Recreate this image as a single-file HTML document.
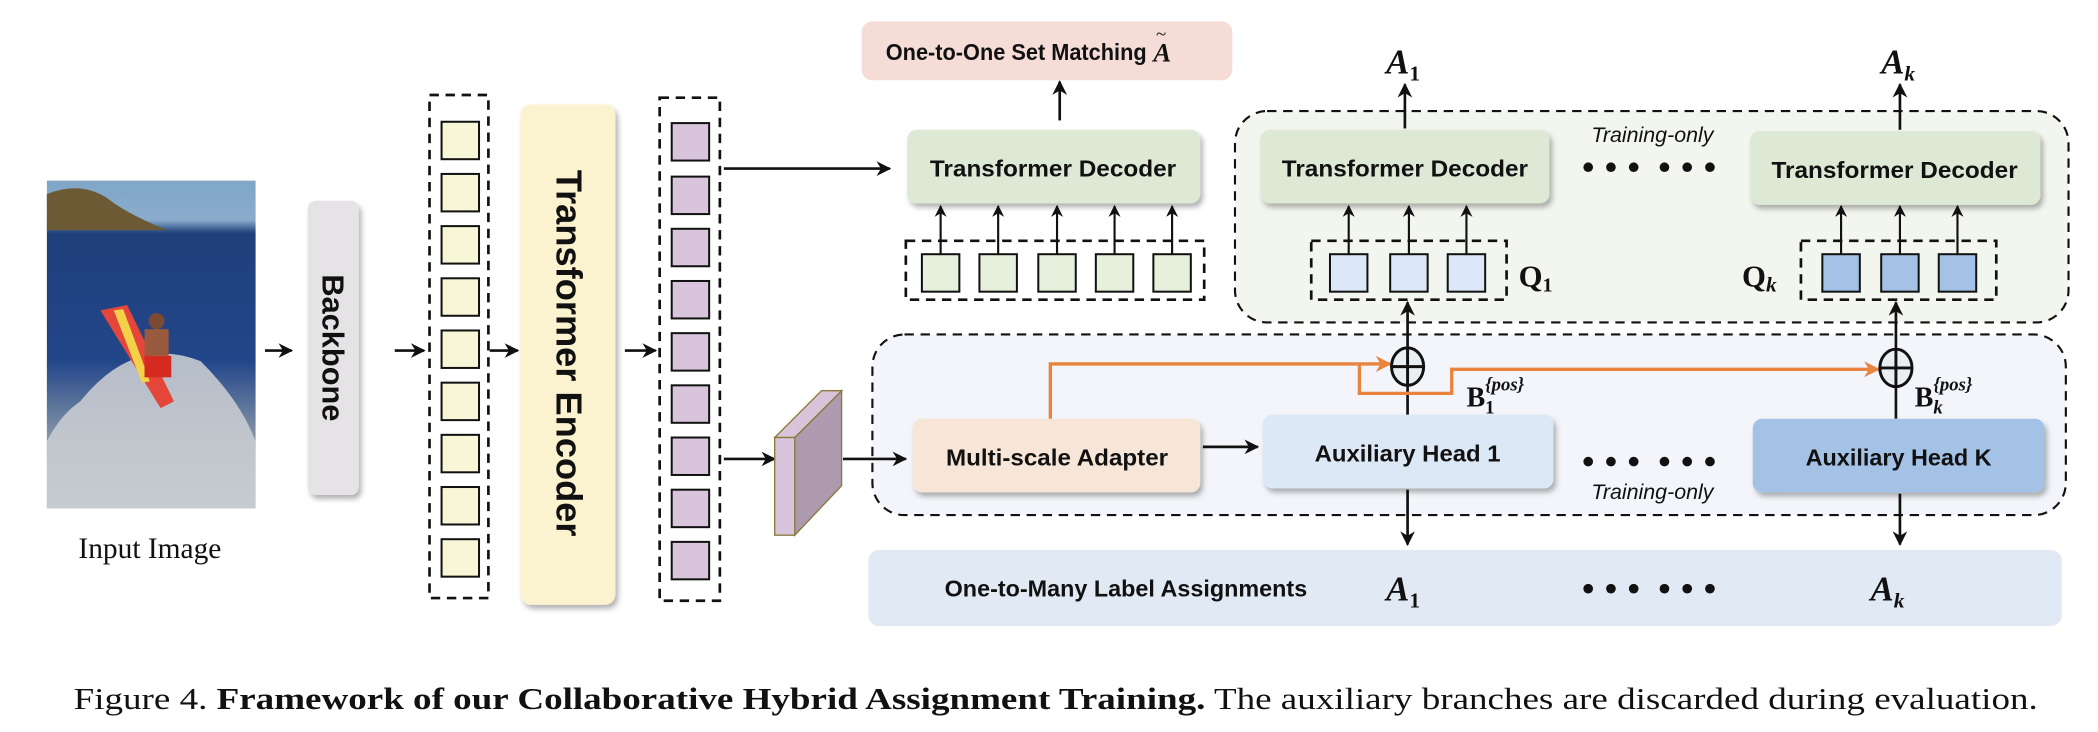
<!DOCTYPE html>
<html><head><meta charset="utf-8"><style>
html,body{margin:0;padding:0;background:#fff;}
svg{display:block;}
.b{font-family:"Liberation Sans Narrow","Liberation Sans",sans-serif;font-weight:bold;fill:#111;}
.s{font-family:"Liberation Serif",serif;fill:#111;}
</style></head><body>
<svg width="2098" height="732" viewBox="0 0 1568 547.1" xmlns="http://www.w3.org/2000/svg">
<defs>
<filter id="sh" x="-10%" y="-10%" width="130%" height="140%"><feDropShadow dx="2" dy="3" stdDeviation="2" flood-color="#000" flood-opacity="0.3"/></filter>
<marker id="ar" viewBox="0 0 10 10" refX="9" refY="5" markerWidth="11" markerHeight="11" markerUnits="userSpaceOnUse" orient="auto-start-reverse"><path d="M0,0 L10,5 L0,10 L3,5 z" fill="#111"/></marker>
<marker id="as" viewBox="0 0 10 10" refX="9" refY="5" markerWidth="9" markerHeight="9" markerUnits="userSpaceOnUse" orient="auto"><path d="M0,0 L10,5 L0,10 L3,5 z" fill="#111"/></marker>
<marker id="ao" viewBox="0 0 10 10" refX="9" refY="5" markerWidth="12" markerHeight="12" markerUnits="userSpaceOnUse" orient="auto"><path d="M0,0 L10,5 L0,10 L3,5 z" fill="#e9843f"/></marker>
<linearGradient id="sea" x1="0" y1="0" x2="0" y2="1"><stop offset="0" stop-color="#7fa6c8"/><stop offset="0.12" stop-color="#8aaccc"/><stop offset="0.16" stop-color="#1f3f7a"/><stop offset="0.55" stop-color="#23468a"/><stop offset="0.8" stop-color="#8c9aa8"/><stop offset="1" stop-color="#c8ccd0"/></linearGradient>
</defs>

<!-- photo -->
<rect x="35" y="135" width="156" height="245" fill="url(#sea)"/>
<path d="M35,145 Q60,135 80,148 Q95,160 125,172 L35,172 z" fill="#6b5a33"/>
<path d="M60,300 Q100,250 150,270 Q180,300 191,330 L191,380 L35,380 L35,330 Q45,310 60,300z" fill="#c6cbd0" opacity="0.9"/>
<path d="M75,232 L95,228 L130,300 L120,305 z" fill="#e4463a"/>
<path d="M85,232 L92,231 L112,285 L106,286 z" fill="#f3d24a"/>
<circle cx="117" cy="240" r="6" fill="#7a4a33"/>
<rect x="108" y="246" width="18" height="20" fill="#9a5a40"/>
<rect x="108" y="266" width="20" height="16" fill="#d42a20"/>

<text class="s" x="112" y="417" font-size="22" text-anchor="middle">Input Image</text>

<!-- regions -->
<rect x="923" y="83" width="623" height="158" rx="24" fill="#f3f5ef" stroke="#111" stroke-width="1.6" stroke-dasharray="7,5"/>
<rect x="652" y="250" width="892" height="135" rx="24" fill="#f3f5fa" stroke="#111" stroke-width="1.6" stroke-dasharray="7,5"/>
<rect x="649" y="411" width="892" height="57" rx="8" fill="#e1eaf4"/>

<!-- arrows -->
<g stroke="#111" stroke-width="2" fill="none" marker-end="url(#ar)">
<line x1="198" y1="262" x2="218" y2="262"/>
<line x1="295" y1="262" x2="317" y2="262"/>
<line x1="366" y1="262" x2="387" y2="262"/>
<line x1="467" y1="262" x2="490" y2="262"/>
<line x1="541" y1="126" x2="665" y2="126"/>
<line x1="541" y1="343" x2="579" y2="343"/>
<line x1="630" y1="343" x2="677" y2="343"/>
<line x1="899" y1="334" x2="940" y2="334"/>
<line x1="792" y1="90" x2="792" y2="61"/>
</g>

<!-- backbone -->
<rect x="230" y="150" width="38" height="220" rx="6" fill="#e5e3e6" filter="url(#sh)"/>
<text transform="translate(241,260) rotate(90)" font-size="23" text-anchor="middle" style="font-family:'Liberation Sans',sans-serif;font-weight:bold" fill="#111">Backbone</text>

<!-- column 1 -->
<rect x="321" y="71" width="44" height="376" fill="none" stroke="#111" stroke-width="2" stroke-dasharray="7,5"/>
<g fill="#f7f6d6" stroke="#111" stroke-width="1.5">
<rect x="330" y="91" width="28" height="28"/><rect x="330" y="130" width="28" height="28"/><rect x="330" y="169" width="28" height="28"/><rect x="330" y="208" width="28" height="28"/><rect x="330" y="247" width="28" height="28"/><rect x="330" y="286" width="28" height="28"/><rect x="330" y="325" width="28" height="28"/><rect x="330" y="364" width="28" height="28"/><rect x="330" y="403" width="28" height="28"/>
</g>

<!-- encoder -->
<rect x="389" y="78" width="71" height="374" rx="8" fill="#fbf2cf" filter="url(#sh)"/>
<text transform="translate(416,264) rotate(90)" font-size="27" text-anchor="middle" textLength="274" lengthAdjust="spacingAndGlyphs" style="font-family:'Liberation Sans',sans-serif;font-weight:bold" fill="#111">Transformer Encoder</text>

<!-- column 2 -->
<rect x="493" y="73" width="45" height="376" fill="none" stroke="#111" stroke-width="2" stroke-dasharray="7,5"/>
<g fill="#d8c5dc" stroke="#111" stroke-width="1.5">
<rect x="502" y="92" width="28" height="28"/><rect x="502" y="132" width="28" height="28"/><rect x="502" y="171" width="28" height="28"/><rect x="502" y="210" width="28" height="28"/><rect x="502" y="249" width="28" height="28"/><rect x="502" y="288" width="28" height="28"/><rect x="502" y="327" width="28" height="28"/><rect x="502" y="366" width="28" height="28"/><rect x="502" y="405" width="28" height="28"/>
</g>

<!-- prism -->
<g stroke="#8a7a3a" stroke-width="1">
<path d="M594,327 L629,292 L629,363 L594,400 z" fill="#ad9aae"/>
<path d="M579,327 L614,292 L629,292 L594,327 z" fill="#d8c5dc"/>
<rect x="579" y="327" width="15" height="73" fill="#d8c5dc"/>
</g>

<!-- one-to-one -->
<rect x="644" y="16" width="277" height="44" rx="8" fill="#f6dcd6"/>
<text class="b" x="662" y="45" font-size="17" textLength="195" lengthAdjust="spacingAndGlyphs">One-to-One Set Matching</text>
<text class="s" x="862" y="46" font-size="20" font-style="italic" font-weight="bold">A</text>
<text class="s" x="864" y="30" font-size="14">~</text>

<!-- decoders -->
<g filter="url(#sh)" fill="#dde9d5">
<rect x="678" y="97" width="219" height="55" rx="7"/>
<rect x="942" y="97" width="216" height="55" rx="7"/>
<rect x="1308" y="98" width="217" height="55" rx="7"/>
</g>
<text class="b" x="787" y="132" font-size="17" text-anchor="middle" textLength="184" lengthAdjust="spacingAndGlyphs">Transformer Decoder</text>
<text class="b" x="1050" y="132" font-size="17" text-anchor="middle" textLength="184" lengthAdjust="spacingAndGlyphs">Transformer Decoder</text>
<text class="b" x="1416" y="133" font-size="17" text-anchor="middle" textLength="184" lengthAdjust="spacingAndGlyphs">Transformer Decoder</text>

<!-- query boxes -->
<g fill="none" stroke="#111" stroke-width="2" stroke-dasharray="7,5">
<rect x="677" y="180" width="223" height="44"/>
<rect x="980" y="180" width="146" height="44"/>
<rect x="1346" y="180" width="146" height="44"/>
</g>
<g stroke="#111" stroke-width="1.5">
<g fill="#e6f0dc"><rect x="689" y="190" width="28" height="28"/><rect x="732" y="190" width="28" height="28"/><rect x="776" y="190" width="28" height="28"/><rect x="819" y="190" width="28" height="28"/><rect x="862" y="190" width="28" height="28"/></g>
<g fill="#dce8f7"><rect x="994" y="190" width="28" height="28"/><rect x="1039" y="190" width="28" height="28"/><rect x="1082" y="190" width="28" height="28"/></g>
<g fill="#a4c2e6"><rect x="1362" y="190" width="28" height="28"/><rect x="1406" y="190" width="28" height="28"/><rect x="1449" y="190" width="28" height="28"/></g>
</g>
<g stroke="#111" stroke-width="1.6" marker-end="url(#as)">
<line x1="703" y1="190" x2="703" y2="154"/><line x1="746" y1="190" x2="746" y2="154"/><line x1="790" y1="190" x2="790" y2="154"/><line x1="833" y1="190" x2="833" y2="154"/><line x1="876" y1="190" x2="876" y2="154"/>
<line x1="1008" y1="190" x2="1008" y2="154"/><line x1="1053" y1="190" x2="1053" y2="154"/><line x1="1096" y1="190" x2="1096" y2="154"/>
<line x1="1376" y1="190" x2="1376" y2="154"/><line x1="1420" y1="190" x2="1420" y2="154"/><line x1="1463" y1="190" x2="1463" y2="154"/>
</g>
<g stroke="#111" stroke-width="2" marker-end="url(#ar)">
<line x1="1050" y1="96" x2="1050" y2="63"/><line x1="1420" y1="97" x2="1420" y2="63"/>
<line x1="1052" y1="310" x2="1052" y2="226"/><line x1="1417" y1="313" x2="1417" y2="226"/>
<line x1="1052" y1="366" x2="1052" y2="407"/><line x1="1420" y1="369" x2="1420" y2="407"/>
</g>

<text class="s" x="1135" y="214" font-size="23" font-weight="bold">Q<tspan font-size="15" dy="4">1</tspan></text>
<text class="s" x="1302" y="214" font-size="23" font-weight="bold">Q<tspan font-size="16" dy="4" font-style="italic">k</tspan></text>

<!-- A labels -->
<g class="s" font-size="26" font-style="italic" font-weight="bold">
<text x="1036" y="55">A<tspan font-size="16" font-style="normal" dy="5">1</tspan></text>
<text x="1406" y="55">A<tspan font-size="16" dy="5">k</tspan></text>
<text x="1036" y="449">A<tspan font-size="16" font-style="normal" dy="5">1</tspan></text>
<text x="1398" y="449">A<tspan font-size="16" dy="5">k</tspan></text>
</g>

<!-- dots -->
<g fill="#111">
<circle cx="1187" cy="125" r="3.6"/><circle cx="1204" cy="125" r="3.6"/><circle cx="1221" cy="125" r="3.6"/><circle cx="1244" cy="125" r="3.6"/><circle cx="1261" cy="125" r="3.6"/><circle cx="1278" cy="125" r="3.6"/>
<circle cx="1187" cy="345" r="3.6"/><circle cx="1204" cy="345" r="3.6"/><circle cx="1221" cy="345" r="3.6"/><circle cx="1244" cy="345" r="3.6"/><circle cx="1261" cy="345" r="3.6"/><circle cx="1278" cy="345" r="3.6"/>
<circle cx="1187" cy="440" r="3.6"/><circle cx="1204" cy="440" r="3.6"/><circle cx="1221" cy="440" r="3.6"/><circle cx="1244" cy="440" r="3.6"/><circle cx="1261" cy="440" r="3.6"/><circle cx="1278" cy="440" r="3.6"/>
</g>
<text x="1235" y="106" font-size="16" font-style="italic" text-anchor="middle" style="font-family:'Liberation Sans',sans-serif" fill="#111">Training-only</text>
<text x="1235" y="373" font-size="16" font-style="italic" text-anchor="middle" style="font-family:'Liberation Sans',sans-serif" fill="#111">Training-only</text>

<!-- lower boxes -->
<g filter="url(#sh)">
<rect x="682" y="313" width="215" height="55" rx="7" fill="#f7e6d8"/>
<rect x="944" y="310" width="217" height="55" rx="7" fill="#dce8f5"/>
<rect x="1310" y="313" width="218" height="55" rx="7" fill="#a4c2e6"/>
</g>
<text class="b" x="790" y="348" font-size="17" text-anchor="middle" textLength="166" lengthAdjust="spacingAndGlyphs">Multi-scale Adapter</text>
<text class="b" x="1052" y="345" font-size="17" text-anchor="middle" textLength="139" lengthAdjust="spacingAndGlyphs">Auxiliary Head 1</text>
<text class="b" x="1419" y="348" font-size="17" text-anchor="middle" textLength="139" lengthAdjust="spacingAndGlyphs">Auxiliary Head K</text>

<!-- orange paths -->
<g stroke="#e9843f" stroke-width="2.5" fill="none">
<path d="M785,313 L785,272 L1039,272" marker-end="url(#ao)"/>
<path d="M1016,272 L1016,294 L1085,294 L1085,276 L1404,276" marker-end="url(#ao)"/>
</g>
<!-- plus circles -->
<g stroke="#111" stroke-width="2.2" fill="#e8eef2">
<ellipse cx="1052" cy="274" rx="12" ry="14"/><line x1="1040" y1="274" x2="1064" y2="274"/><line x1="1052" y1="260" x2="1052" y2="288"/>
<ellipse cx="1417" cy="275" rx="12" ry="14"/><line x1="1405" y1="275" x2="1429" y2="275"/><line x1="1417" y1="261" x2="1417" y2="289"/>
</g>
<text class="s" x="1096" y="304" font-size="21" font-weight="bold">B</text>
<text class="s" x="1110" y="292" font-size="14" font-style="italic" font-weight="bold">{pos}</text>
<text class="s" x="1110" y="309" font-size="14" font-weight="bold">1</text>
<text class="s" x="1431" y="304" font-size="21" font-weight="bold">B</text>
<text class="s" x="1445" y="292" font-size="14" font-style="italic" font-weight="bold">{pos}</text>
<text class="s" x="1445" y="309" font-size="14" font-style="italic" font-weight="bold">k</text>

<text class="b" x="706" y="446" font-size="17" textLength="271" lengthAdjust="spacingAndGlyphs">One-to-Many Label Assignments</text>

<!-- caption -->
<text class="s" x="55" y="530" font-size="23" textLength="1468" lengthAdjust="spacingAndGlyphs">Figure 4. <tspan font-weight="bold">Framework of our Collaborative Hybrid Assignment Training.</tspan> The auxiliary branches are discarded during evaluation.</text>
</svg>
</body></html>
